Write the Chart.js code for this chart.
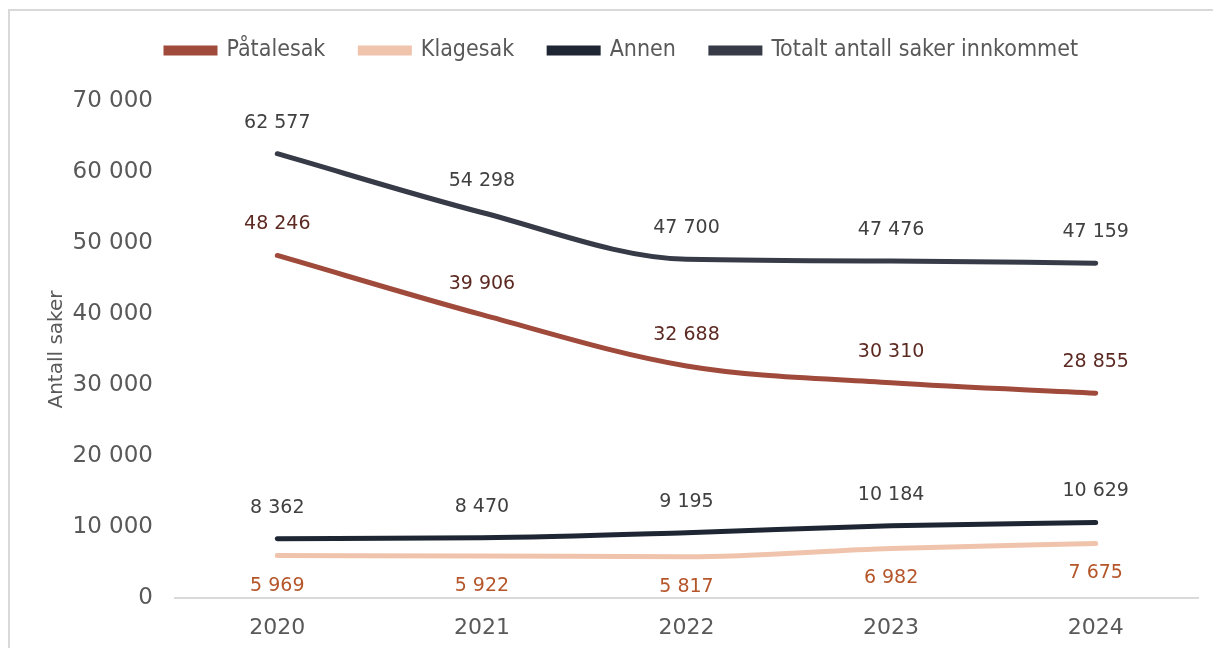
<!DOCTYPE html>
<html>
<head>
<meta charset="utf-8">
<script src="https://cdn.jsdelivr.net/npm/chart.js@4/dist/chart.umd.min.js"></script>
<style>
  html, body { margin: 0; padding: 0; background: #fff; }
  #wrap { position: relative; width: 1213px; height: 648px; overflow: hidden; }
  #frame { position: absolute; left: 8px; top: 9px; width: 1220px; height: 700px;
           border-left: 2px solid #d9d9d9; border-top: 2px solid #d9d9d9; }
  canvas { position: absolute; left: 0; top: 0; }
</style>
</head>
<body>
<div id="wrap">
  <div id="frame"></div>
  <canvas id="chart" width="1213" height="648"></canvas>
</div>
<script>
const years = ["2020", "2021", "2022", "2023", "2024"];
const patalesak = [48246, 39906, 32688, 30310, 28855];
const klagesak = [5969, 5922, 5817, 6982, 7675];
const annen = [8362, 8470, 9195, 10184, 10629];
const totalt = [62577, 54298, 47700, 47476, 47159];
const yTicks = [0, 10000, 20000, 30000, 40000, 50000, 60000, 70000];

const FONT = "'DejaVu Sans', 'Liberation Sans', Arial, sans-serif";

function fmt(v) {
  return String(v).replace(/\B(?=(\d{3})+(?!\d))/g, " ");
}

// value labels above (or below for Klagesak) each point
const valueLabels = {
  id: "valueLabels",
  beforeInit(chart) {
    // extra room between legend and plot
    const legend = chart.legend;
    const fit = legend.fit;
    legend.fit = function () {
      fit.call(this);
      this.height += 29;
    };
  },
  afterLayout(chart) {
    chart.legend.left = 131;
  },
  afterDatasetsDraw(chart) {
    const ctx = chart.ctx;
    ctx.save();
    ctx.font = "19px " + FONT;
    ctx.textAlign = "center";
    ctx.textBaseline = "middle";
    chart.data.datasets.forEach(function (ds, i) {
      const meta = chart.getDatasetMeta(i);
      ctx.fillStyle = ds.labelColor;
      meta.data.forEach(function (pt, j) {
        const dy = ds.labelBelow ? 30 : -31;
        ctx.fillText(fmt(ds.data[j]), pt.x, pt.y + dy);
      });
    });
    ctx.restore();
  }
};

function line(label, data, color, labelColor, below) {
  return {
    label: label,
    data: data,
    borderColor: color,
    backgroundColor: color,
    borderWidth: 5,
    borderCapStyle: "round",
    pointRadius: 0,
    cubicInterpolationMode: "monotone",
    labelColor: labelColor,
    labelBelow: below
  };
}

new Chart(document.getElementById("chart"), {
  type: "line",
  data: {
    labels: years,
    datasets: [
      line("Påtalesak", patalesak, "#A04A3C", "#5C2A22", false),
      line("Klagesak", klagesak, "#F0C4AC", "#B5562A", true),
      line("Annen", annen, "#1F2633", "#404040", false),
      line("Totalt antall saker innkommet", totalt, "#363B47", "#404040", false)
    ]
  },
  options: {
    responsive: false,
    animation: false,
    layout: { padding: { top: 4, right: 15, left: 0, bottom: 0 } },
    plugins: {
      legend: {
        position: "top",
        align: "start",
        labels: {
          boxWidth: 49,
          boxHeight: 5,
          padding: 35,
          color: "#595959",
          font: { family: "'DejaVu Sans Condensed', 'Liberation Sans', Arial", size: 23 }
        }
      },
      tooltip: { enabled: false }
    },
    scales: {
      x: {
        offset: true,
        grid: { display: false, drawTicks: false },
        border: { display: true, color: "#d9d9d9", width: 2 },
        ticks: {
          padding: 17,
          color: "#595959",
          font: { family: FONT, size: 22 }
        },
        afterFit: function (scale) { scale.height = 50; }
      },
      y: {
        min: 0,
        max: 70000,
        grid: { display: false, drawTicks: false },
        border: { display: false },
        afterBuildTicks: function (scale) {
          scale.ticks = yTicks.map(function (v) { return { value: v }; });
        },
        ticks: {
          padding: 22,
          color: "#595959",
          font: { family: FONT, size: 23 },
          callback: function (v) { return fmt(v); }
        },
        title: {
          display: true,
          text: "Antall saker",
          color: "#595959",
          font: { family: FONT, size: 20 },
          padding: { top: 45, bottom: 0 }
        },
        afterFit: function (scale) { scale.width = 175; }
      }
    }
  },
  plugins: [valueLabels]
});
</script>
</body>
</html>
